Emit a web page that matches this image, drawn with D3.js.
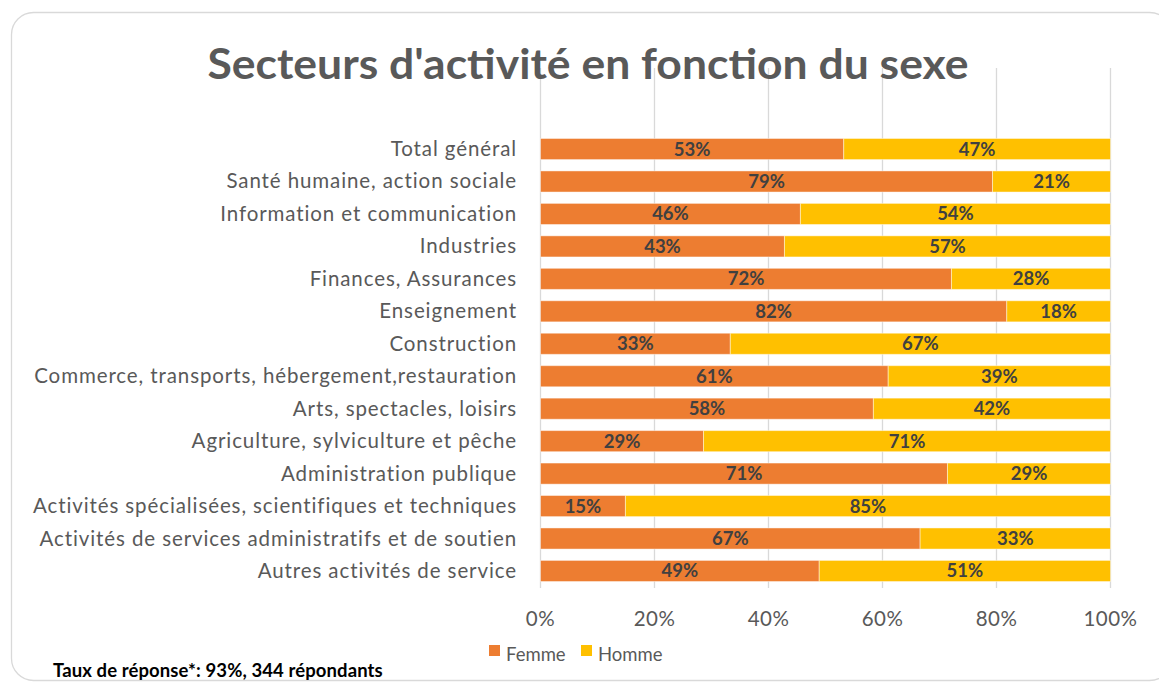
<!DOCTYPE html>
<html>
<head>
<meta charset="utf-8">
<script src="https://cdn.jsdelivr.net/npm/d3@7"></script>
<style>
    body { margin: 0; background: #fff; }
    svg { display: block; font-family: Lato, "Open Sans", sans-serif; }
</style>
</head>
<body>
<div id="chart"></div>
<script>
var categories = [
    'Total général',
    'Santé humaine, action sociale',
    'Information et communication',
    'Industries',
    'Finances, Assurances',
    'Enseignement',
    'Construction',
    'Commerce, transports, hébergement,restauration',
    'Arts, spectacles, loisirs',
    'Agriculture, sylviculture et pêche',
    'Administration publique',
    'Activités spécialisées, scientifiques et techniques',
    'Activités de services administratifs et de soutien',
    'Autres activités de service'
];
var femme = [0.532, 0.793, 0.456, 0.428, 0.721, 0.818, 0.333, 0.61, 0.584, 0.286, 0.714, 0.149, 0.666, 0.489];
var homme = [0.468, 0.207, 0.544, 0.572, 0.279, 0.182, 0.667, 0.39, 0.416, 0.714, 0.286, 0.851, 0.334, 0.511];
var seriesNames = ['Femme', 'Homme'];
var seriesColors = ['#ED7D31', '#FFC000'];
var xTicks = [0, 0.2, 0.4, 0.6, 0.8, 1];

var width = 1159,
    height = 682;

var svg = d3.select('#chart')
    .append('svg')
    .attr('width', width)
    .attr('height', height);

// chart frame
svg.append('rect')
    .attr('x', 11.5).attr('y', 12.5)
    .attr('width', 1160).attr('height', 668)
    .attr('rx', 22).attr('ry', 22)
    .attr('fill', '#fff')
    .attr('stroke', '#D9D9D9')
    .attr('stroke-width', 1.3);

var x = d3.scaleLinear()
    .domain([0, 1])
    .range([540.5, 1110.5]);

var y = d3.scaleBand()
    .domain(categories)
    .range([132.8, 587.2])
    .paddingInner(0.35)
    .paddingOuter(0.175);

// gridlines
svg.append('g')
    .selectAll('line')
    .data(xTicks)
    .enter()
    .append('line')
    .attr('x1', function (d) { return x(d); })
    .attr('x2', function (d) { return x(d); })
    .attr('y1', 68)
    .attr('y2', 588)
    .attr('stroke', '#D9D9D9')
    .attr('stroke-width', 1.3);

// title
svg.append('text')
    .attr('x', 588)
    .attr('y', 79)
    .attr('text-anchor', 'middle')
    .attr('font-size', 42)
    .attr('font-weight', 'bold')
    .attr('fill', '#595959')
    .attr('textLength', 761)
    .attr('lengthAdjust', 'spacingAndGlyphs')
    .text("Secteurs d'activité en fonction du sexe");

var stackData = categories.map(function (c, i) {
    return { cat: c, Femme: femme[i], Homme: homme[i] };
});
var stack = d3.stack().keys(seriesNames)(stackData);

var layers = svg.append('g')
    .selectAll('g')
    .data(stack)
    .enter()
    .append('g')
    .attr('fill', function (d, i) { return seriesColors[i]; });

layers.selectAll('rect')
    .data(function (d) { return d; })
    .enter()
    .append('rect')
    .attr('x', function (d) { return x(d[0]); })
    .attr('y', function (d) { return y(d.data.cat); })
    .attr('width', function (d) { return x(d[1]) - x(d[0]); })
    .attr('height', y.bandwidth())
    .attr('stroke', '#fff')
    .attr('stroke-opacity', 0.45)
    .attr('stroke-width', 1);

layers.selectAll('text')
    .data(function (d) { return d; })
    .enter()
    .append('text')
    .attr('x', function (d) { return (x(d[0]) + x(d[1])) / 2; })
    .attr('y', function (d) { return y(d.data.cat) + y.bandwidth() / 2 + 6.5; })
    .attr('text-anchor', 'middle')
    .attr('font-size', 18.5)
    .attr('font-weight', 'bold')
    .attr('fill', '#404040')
    .text(function (d) { return Math.round((d[1] - d[0]) * 100) + '%'; });

// category labels
svg.append('g')
    .selectAll('text')
    .data(categories)
    .enter()
    .append('text')
    .attr('x', 517)
    .attr('y', function (d) { return y(d) + y.bandwidth() / 2 + 7; })
    .attr('text-anchor', 'end')
    .attr('font-size', 20.5)
    .attr('letter-spacing', 0.9)
    .attr('fill', '#595959')
    .text(function (d) { return d; });

// x tick labels
svg.append('g')
    .selectAll('text')
    .data(xTicks)
    .enter()
    .append('text')
    .attr('x', function (d) { return x(d); })
    .attr('y', 626)
    .attr('text-anchor', 'middle')
    .attr('font-size', 20.5)
    .attr('letter-spacing', 0.5)
    .attr('fill', '#595959')
    .text(d3.format('.0%'));

// legend
var legendX = [489, 581];
var legend = svg.append('g')
    .selectAll('g')
    .data(seriesNames)
    .enter()
    .append('g')
    .attr('transform', function (d, i) { return 'translate(' + legendX[i] + ',645)'; });

legend.append('rect')
    .attr('width', 11)
    .attr('height', 11)
    .attr('fill', function (d, i) { return seriesColors[i]; });

legend.append('text')
    .attr('x', 17)
    .attr('y', 16)
    .attr('font-size', 18.5)
    .attr('fill', '#595959')
    .text(function (d) { return d; });

// footnote
svg.append('text')
    .attr('x', 53)
    .attr('y', 677)
    .attr('font-size', 18.5)
    .attr('font-weight', 'bold')
    .attr('letter-spacing', 0.1)
    .attr('fill', '#000')
    .text('Taux de réponse*: 93%, 344 répondants');
</script>
</body>
</html>
